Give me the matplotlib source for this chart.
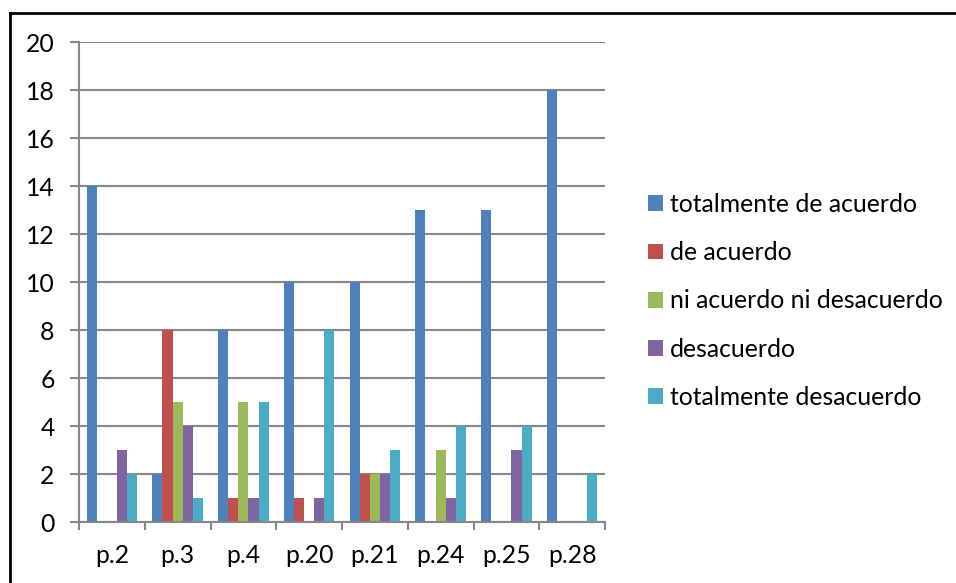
import matplotlib
matplotlib.use("Agg")
import matplotlib.pyplot as plt
import numpy as np
from matplotlib.lines import Line2D

plt.rcParams['font.family'] = ['Lato', 'DejaVu Sans']

categories = ["p.2", "p.3", "p.4", "p.20", "p.21", "p.24", "p.25", "p.28"]
series_names = ["totalmente de acuerdo", "de acuerdo", "ni acuerdo ni desacuerdo",
                "desacuerdo", "totalmente desacuerdo"]
totalmente_de_acuerdo = [14, 2, 8, 10, 10, 13, 13, 18]
de_acuerdo = [0, 8, 1, 1, 2, 0, 0, 0]
ni_acuerdo_ni_desacuerdo = [0, 5, 5, 0, 2, 3, 0, 0]
desacuerdo = [3, 4, 1, 1, 2, 1, 3, 0]
totalmente_desacuerdo = [2, 1, 5, 8, 3, 4, 4, 2]
y_ticks = [0, 2, 4, 6, 8, 10, 12, 14, 16, 18, 20]

series = [totalmente_de_acuerdo, de_acuerdo, ni_acuerdo_ni_desacuerdo,
          desacuerdo, totalmente_desacuerdo]
colors = ["#4F81BD", "#C0504D", "#9BBB59", "#8064A2", "#4BACC6"]

FS = 17.8
W, H = 956, 583
fig = plt.figure(figsize=(W / 100, H / 100), dpi=100)
ax = fig.add_axes([79 / W, (H - 522) / H, (605 - 79) / W, (522 - 42) / H])

n = len(series)
bw = 1 / 6.5
x = np.arange(len(categories))
for i, (vals, c, name) in enumerate(zip(series, colors, series_names)):
    ax.bar(x + (i - (n - 1) / 2) * bw, vals, width=bw, color=c, label=name,
           edgecolor='none', zorder=3)

grid_c = "#868686"
ax.set_xlim(-0.5, len(categories) - 0.5)
ax.set_ylim(0, 20)
ax.set_yticks(y_ticks)
ax.set_yticklabels([str(v) for v in y_ticks])
for v in y_ticks:
    ax.axhline(v, color=grid_c, lw=1.5, zorder=1)
ax.set_xticks(x)
ax.set_xticklabels(categories)
ax.set_xticks(np.arange(len(categories) + 1) - 0.5, minor=True)
ax.tick_params(axis='x', which='major', length=0, pad=16, labelsize=FS)
ax.tick_params(axis='x', which='minor', length=6, width=1.5, color=grid_c, direction='out')
ax.tick_params(axis='y', length=6.5, width=1.5, color=grid_c, pad=11, labelsize=FS)
for s in ['top', 'right']:
    ax.spines[s].set_visible(False)
for s in ['left', 'bottom']:
    ax.spines[s].set_color(grid_c)
    ax.spines[s].set_linewidth(1.5)
    ax.spines[s].set_zorder(4)

leg = fig.legend(loc='upper left', bbox_to_anchor=(648 / W, 1 - 193 / H),
                 frameon=False, fontsize=FS, handlelength=0.6, handleheight=0.6,
                 handletextpad=0.28, labelspacing=1.02, borderpad=0, borderaxespad=0)

# outer chart border (top and left visible)
fig.add_artist(Line2D([9.5 / W, 1], [1 - 13 / H, 1 - 13 / H], color='black', lw=2,
                      transform=fig.transFigure))
fig.add_artist(Line2D([9.5 / W, 9.5 / W], [0, 1 - 13 / H], color='black', lw=2,
                      transform=fig.transFigure))

fig.savefig("out.png", dpi=100)
